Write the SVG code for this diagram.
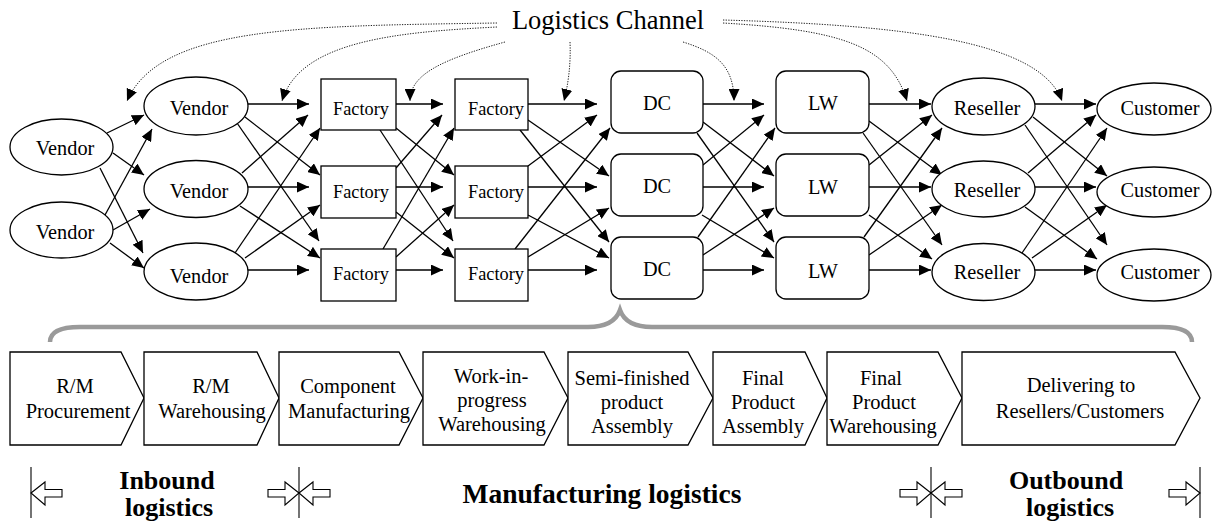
<svg xmlns="http://www.w3.org/2000/svg" width="1212" height="528" viewBox="0 0 1212 528" font-family="Liberation Serif, DejaVu Serif, serif">
  <style>
    .n { fill: #fff; stroke: #000; stroke-width: 1.3; }
    .t { font-family: 'Liberation Serif', 'DejaVu Serif', serif; font-size: 20.3px; fill: #000; text-anchor: middle; }
    .tf { font-size: 18.3px; }
    .tc { font-family: 'Liberation Serif', 'DejaVu Serif', serif; font-size: 20.5px; fill: #000; text-anchor: middle; }
    .tb { font-family: 'Liberation Serif', 'DejaVu Serif', serif; font-size: 26px; font-weight: bold; fill: #000; text-anchor: middle; }
    .e line { stroke: #000; stroke-width: 1.3; marker-end: url(#ah); }
    .d path { fill: none; stroke: #222; stroke-width: 1; stroke-dasharray: 1.3 1.3; marker-end: url(#ah); }
    .ch { fill: #fff; stroke: #000; stroke-width: 1.3; }
    .ha { fill: #fff; stroke: #000; stroke-width: 1.1; }
    .bar { stroke: #000; stroke-width: 1.1; }
  </style>
  <defs>
    <marker id="ah" viewBox="0 0 12 11" refX="12" refY="5.5" markerWidth="12" markerHeight="11" markerUnits="userSpaceOnUse" orient="auto">
      <path d="M0,0L12,5.5L0,11z" fill="#000"/>
    </marker>
  </defs>

  <rect width="1212" height="528" fill="#fff"/>

  <!-- title with dotted pointers -->
  <g id="logistics-channel">
    <text x="608" y="29" class="t" style="font-size:26.5px">Logistics Channel</text>
  </g>
  <g id="channel-pointers" class="d">
    <path d="M497,23 C300,26 160,26 127,101"/>
    <path d="M497,27 C400,32 300,40 282,101"/>
    <path d="M505,42 C440,60 410,75 410,101"/>
    <path d="M570,42 C571,65 568,85 564,101"/>
    <path d="M683,42 C715,52 734,65 734,101"/>
    <path d="M723,23 C840,30 890,45 907,101"/>
    <path d="M723,20 C900,25 1040,40 1062,101"/>
  </g>

  <!-- connectors -->
  <g id="connectors" class="e">
    <!-- source vendors to vendors -->
    <line x1="107" y1="133" x2="144" y2="115"/>
    <line x1="113" y1="153" x2="144" y2="175"/>
    <line x1="100" y1="168" x2="143" y2="253"/>
    <line x1="105" y1="215" x2="152" y2="129"/>
    <line x1="113" y1="230" x2="150" y2="209"/>
    <line x1="110" y1="243" x2="144" y2="268"/>
    <!-- vendors to factories -->
    <line x1="248" y1="104" x2="309" y2="104"/>
    <line x1="245" y1="117" x2="320" y2="175"/>
    <line x1="237" y1="123" x2="319" y2="241"/>
    <line x1="242" y1="173" x2="308" y2="115"/>
    <line x1="248" y1="187" x2="309" y2="187"/>
    <line x1="240" y1="206" x2="320" y2="258"/>
    <line x1="235" y1="253" x2="320" y2="128"/>
    <line x1="245" y1="258" x2="320" y2="205"/>
    <line x1="248" y1="270" x2="309" y2="270"/>
    <!-- factories to factories -->
    <line x1="396" y1="104" x2="443" y2="104"/>
    <line x1="396" y1="128" x2="454" y2="175"/>
    <line x1="380" y1="130" x2="453" y2="241"/>
    <line x1="396" y1="168" x2="442" y2="115"/>
    <line x1="396" y1="187" x2="443" y2="187"/>
    <line x1="396" y1="212" x2="454" y2="258"/>
    <line x1="383" y1="249" x2="454" y2="128"/>
    <line x1="396" y1="257" x2="454" y2="205"/>
    <line x1="396" y1="270" x2="443" y2="270"/>
    <!-- factories to DCs -->
    <line x1="528" y1="104" x2="597" y2="104"/>
    <line x1="528" y1="120" x2="609" y2="176"/>
    <line x1="520" y1="130" x2="609" y2="242"/>
    <line x1="528" y1="166" x2="597" y2="115"/>
    <line x1="528" y1="187" x2="597" y2="187"/>
    <line x1="528" y1="215" x2="609" y2="258"/>
    <line x1="515" y1="249" x2="610" y2="128"/>
    <line x1="528" y1="257" x2="609" y2="208"/>
    <line x1="528" y1="270" x2="597" y2="270"/>
    <!-- DCs to LWs -->
    <line x1="703" y1="104" x2="764" y2="104"/>
    <line x1="703" y1="122" x2="774" y2="176"/>
    <line x1="697" y1="133" x2="774" y2="242"/>
    <line x1="703" y1="165" x2="764" y2="115"/>
    <line x1="703" y1="187" x2="764" y2="187"/>
    <line x1="702" y1="215" x2="774" y2="258"/>
    <line x1="698" y1="237" x2="775" y2="128"/>
    <line x1="703" y1="255" x2="774" y2="208"/>
    <line x1="703" y1="270" x2="764" y2="270"/>
    <!-- LWs to resellers -->
    <line x1="869" y1="104" x2="931" y2="104"/>
    <line x1="869" y1="121" x2="942" y2="175"/>
    <line x1="863" y1="133" x2="942" y2="245"/>
    <line x1="869" y1="165" x2="932" y2="115"/>
    <line x1="869" y1="187" x2="931" y2="187"/>
    <line x1="869" y1="215" x2="932" y2="259"/>
    <line x1="864" y1="237" x2="942" y2="128"/>
    <line x1="869" y1="255" x2="942" y2="205"/>
    <line x1="869" y1="270" x2="931" y2="270"/>
    <!-- resellers to customers -->
    <line x1="1035" y1="104" x2="1096" y2="104"/>
    <line x1="1033" y1="117" x2="1107" y2="176"/>
    <line x1="1025" y1="125" x2="1107" y2="245"/>
    <line x1="1028" y1="173" x2="1096" y2="115"/>
    <line x1="1035" y1="187" x2="1096" y2="187"/>
    <line x1="1025" y1="207" x2="1097" y2="259"/>
    <line x1="1022" y1="253" x2="1107" y2="128"/>
    <line x1="1032" y1="258" x2="1107" y2="205"/>
    <line x1="1035" y1="270" x2="1096" y2="270"/>
  </g>

  <!-- nodes -->
  <g id="vendor-s1"><ellipse class="n" cx="61.5" cy="147" rx="51.5" ry="28"/><text class="t" x="65" y="155">Vendor</text></g>
  <g id="vendor-s2"><ellipse class="n" cx="61.5" cy="230" rx="51.5" ry="28"/><text class="t" x="65" y="239">Vendor</text></g>

  <g id="vendor-1"><ellipse class="n" cx="196" cy="106" rx="52" ry="29"/><text class="t" x="199" y="115">Vendor</text></g>
  <g id="vendor-2"><ellipse class="n" cx="196" cy="189" rx="52" ry="28.5"/><text class="t" x="199" y="198">Vendor</text></g>
  <g id="vendor-3"><ellipse class="n" cx="196" cy="271.5" rx="52" ry="28.5"/><text class="t" x="199" y="283">Vendor</text></g>

  <g id="factory-a1"><rect class="n" x="321" y="79" width="75" height="51"/><text class="t tf" x="361" y="115">Factory</text></g>
  <g id="factory-a2"><rect class="n" x="321" y="166" width="75" height="52"/><text class="t tf" x="361" y="198">Factory</text></g>
  <g id="factory-a3"><rect class="n" x="321" y="249" width="75" height="52"/><text class="t tf" x="361" y="280">Factory</text></g>

  <g id="factory-b1"><rect class="n" x="455" y="79" width="73" height="51"/><text class="t tf" x="496" y="115">Factory</text></g>
  <g id="factory-b2"><rect class="n" x="455" y="166" width="73" height="52"/><text class="t tf" x="496" y="198">Factory</text></g>
  <g id="factory-b3"><rect class="n" x="455" y="249" width="73" height="52"/><text class="t tf" x="496" y="280">Factory</text></g>

  <g id="dc-1"><rect class="n" x="611" y="71" width="92" height="62" rx="10"/><text class="t" x="657" y="110">DC</text></g>
  <g id="dc-2"><rect class="n" x="611" y="154" width="92" height="62" rx="10"/><text class="t" x="657" y="193">DC</text></g>
  <g id="dc-3"><rect class="n" x="611" y="237" width="92" height="62" rx="10"/><text class="t" x="657" y="276">DC</text></g>

  <g id="lw-1"><rect class="n" x="776" y="71" width="93" height="62" rx="10"/><text class="t" x="823" y="110">LW</text></g>
  <g id="lw-2"><rect class="n" x="776" y="154" width="93" height="62" rx="10"/><text class="t" x="823" y="194">LW</text></g>
  <g id="lw-3"><rect class="n" x="776" y="237" width="93" height="62" rx="10"/><text class="t" x="823" y="278">LW</text></g>

  <g id="reseller-1"><ellipse class="n" cx="983.5" cy="106.5" rx="51.5" ry="28.5"/><text class="t" x="987" y="115">Reseller</text></g>
  <g id="reseller-2"><ellipse class="n" cx="983.5" cy="189" rx="51.5" ry="28"/><text class="t" x="987" y="197">Reseller</text></g>
  <g id="reseller-3"><ellipse class="n" cx="983.5" cy="272" rx="51.5" ry="28.5"/><text class="t" x="987" y="279">Reseller</text></g>

  <g id="customer-1"><ellipse class="n" cx="1154" cy="109" rx="57" ry="26"/><text class="t" x="1160" y="115">Customer</text></g>
  <g id="customer-2"><ellipse class="n" cx="1154" cy="192" rx="57" ry="25"/><text class="t" x="1160" y="197">Customer</text></g>
  <g id="customer-3"><ellipse class="n" cx="1154" cy="275" rx="57" ry="26"/><text class="t" x="1160" y="279">Customer</text></g>

  <!-- brace over the process stages -->
  <g id="brace">
    <path d="M50,342 Q50,327 80,327 L588,327 Q614,327 620,310 Q626,327 652,327 L1162,327 Q1192,327 1192,342" fill="none" stroke="#9a9a9a" stroke-width="4.5"/>
  </g>

  <!-- process stages -->
  <g id="stage-1"><polygon class="ch" points="10,352 121,352 144,398 121,445 10,445"/>
    <text class="tc" x="75" y="393">R/M</text><text class="tc" x="78" y="418">Procurement</text></g>
  <g id="stage-2"><polygon class="ch" points="144,352 257,352 279,398 257,445 144,445"/>
    <text class="tc" x="211" y="393">R/M</text><text class="tc" x="212" y="418">Warehousing</text></g>
  <g id="stage-3"><polygon class="ch" points="279,352 399,352 423,398 399,445 279,445"/>
    <text class="tc" x="348" y="393">Component</text><text class="tc" x="349" y="418">Manufacturing</text></g>
  <g id="stage-4"><polygon class="ch" points="423,352 544,352 568,398 544,445 423,445"/>
    <text class="tc" x="491" y="383">Work-in-</text><text class="tc" x="492" y="407">progress</text><text class="tc" x="492" y="431">Warehousing</text></g>
  <g id="stage-5"><polygon class="ch" points="568,352 688,352 713,398 688,445 568,445"/>
    <text class="tc" x="632" y="385">Semi-finished</text><text class="tc" x="632" y="409">product</text><text class="tc" x="632" y="433">Assembly</text></g>
  <g id="stage-6"><polygon class="ch" points="713,352 805,352 827,398 805,445 713,445"/>
    <text class="tc" x="763" y="385">Final</text><text class="tc" x="763" y="409">Product</text><text class="tc" x="763" y="433">Assembly</text></g>
  <g id="stage-7"><polygon class="ch" points="827,352 938,352 962,398 938,445 827,445"/>
    <text class="tc" x="881" y="385">Final</text><text class="tc" x="884" y="409">Product</text><text class="tc" x="883" y="433">Warehousing</text></g>
  <g id="stage-8"><polygon class="ch" points="962,352 1175,352 1200,398 1175,445 962,445"/>
    <text class="tc" x="1081" y="392">Delivering to</text><text class="tc" x="1080" y="418">Resellers/Customers</text></g>

  <!-- phase extents -->
  <g id="phase-markers">
    <line class="bar" x1="31" y1="467" x2="31" y2="518"/>
    <polygon class="ha" points="31,493 45,482 45,489.5 62,489.5 62,497 45,497 45,505"/>
    <line class="bar" x1="299" y1="467" x2="299" y2="518"/>
    <polygon class="ha" points="299,493 285,482 285,489.5 268,489.5 268,497 285,497 285,505"/>
    <polygon class="ha" points="299,493 313,482 313,489.5 330,489.5 330,497 313,497 313,505"/>
    <line class="bar" x1="931" y1="467" x2="931" y2="518"/>
    <polygon class="ha" points="931,493 917,482 917,489.5 900,489.5 900,497 917,497 917,505"/>
    <polygon class="ha" points="931,493 945,482 945,489.5 962,489.5 962,497 945,497 945,505"/>
    <line class="bar" x1="1200" y1="467" x2="1200" y2="518"/>
    <polygon class="ha" points="1200,493 1186,482 1186,489.5 1169,489.5 1169,497 1186,497 1186,505"/>
  </g>
  <g id="phase-labels">
    <text class="tb" x="167" y="488.5">Inbound</text>
    <text class="tb" x="169" y="516">logistics</text>
    <text class="tb" x="602" y="503" style="font-size:27.5px">Manufacturing logistics</text>
    <text class="tb" x="1066" y="488.5">Outbound</text>
    <text class="tb" x="1070" y="516">logistics</text>
  </g>
</svg>
